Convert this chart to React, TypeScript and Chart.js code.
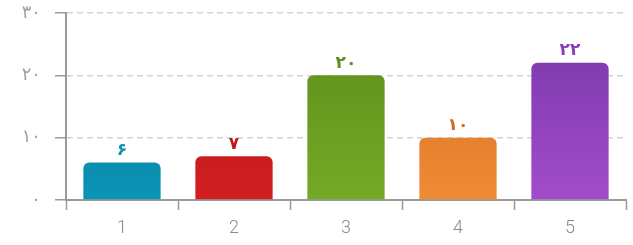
import React, { useEffect, useRef } from "react";
import { Chart, registerables } from "chart.js";

Chart.register(...registerables);

const categories = ["1", "2", "3", "4", "5"];
const values = [6, 7, 20, 10, 22];
const valueLabels = ["۶", "۷", "۲۰", "۱۰", "۲۲"];
const yTickLabels = ["۰", "۱۰", "۲۰", "۳۰"];
const topColors = ["#0a7c99", "#b0161a", "#5c8a1a", "#cf6a1f", "#7636a6"];
const bottomColors = ["#0b93b5", "#d21f22", "#74aa26", "#f08c36", "#a24ccb"];
const labelColors = ["#1590b0", "#c0181c", "#5e8c1c", "#d06a20", "#8a3eb8"];

const valueLabelPlugin = {
  id: "valueLabels",
  afterDatasetsDraw(chart: any) {
    const ctx = chart.ctx;
    const meta = chart.getDatasetMeta(0);
    ctx.save();
    ctx.font = "bold 17px 'DejaVu Sans', sans-serif";
    ctx.textAlign = "center";
    ctx.textBaseline = "middle";
    meta.data.forEach((bar: any, i: number) => {
      ctx.fillStyle = labelColors[i];
      ctx.fillText(valueLabels[i], bar.x, bar.y - 12);
    });
    ctx.restore();
  },
};

export default function App() {
  const ref = useRef<HTMLCanvasElement>(null);
  useEffect(() => {
    document.body.style.margin = "0";
    const chart = new Chart(ref.current!, {
      type: "bar",
      data: {
        labels: categories,
        datasets: [
          {
            data: values,
            backgroundColor: (c: any) => {
              const area = c.chart.chartArea;
              const i = c.dataIndex;
              if (!area || i === undefined) return bottomColors[i ?? 0];
              const g = c.chart.ctx.createLinearGradient(0, area.top, 0, area.bottom);
              g.addColorStop(0, topColors[i]);
              g.addColorStop(1, bottomColors[i]);
              return g;
            },
            borderRadius: 6,
            borderSkipped: "bottom",
            categoryPercentage: 1,
            barPercentage: 0.69,
          },
        ],
      },
      options: {
        animation: false,
        responsive: false,
        maintainAspectRatio: false,
        layout: { padding: { top: 13, right: 7, left: 0, bottom: 0 } },
        plugins: { legend: { display: false }, tooltip: { enabled: false } },
        scales: {
          x: {
            afterFit: (s: any) => {
              s.height = 45;
              s.paddingLeft = 0;
              s.paddingRight = 0;
            },
            grid: {
              drawOnChartArea: false,
              drawTicks: true,
              tickLength: 10,
              tickColor: "#9a9a9a",
              tickWidth: 1.5,
              offset: true,
            },
            border: { display: true, color: "#9a9a9a", width: 2 },
            ticks: {
              color: "#8a8a8a",
              padding: 8,
              font: { family: "'Roboto', sans-serif", size: 18, weight: "300" as any },
            },
          },
          y: {
            min: 0,
            max: 30,
            afterFit: (s: any) => {
              s.width = 66;
              s.paddingTop = 0;
              s.paddingBottom = 0;
            },
            grid: {
              color: "#d4d4d4",
              lineWidth: 1.5,
              tickLength: 11,
              tickColor: "#9a9a9a",
              tickWidth: 1.5,
              tickBorderDash: [],
            },
            border: { display: true, color: "#9a9a9a", width: 2, dash: [6, 4] },
            ticks: {
              stepSize: 10,
              color: "#a0a0a0",
              padding: 14,
              font: { family: "'DejaVu Sans', sans-serif", size: 18 },
              callback: (_v: any, i: number) => yTickLabels[i],
            },
          },
        },
      },
      plugins: [valueLabelPlugin],
    });
    return () => chart.destroy();
  }, []);
  return (
    <div style={{ position: "absolute", left: 0, top: 0, width: 633, height: 245, background: "#fff" }}>
      <canvas ref={ref} width={633} height={245} />
    </div>
  );
}
